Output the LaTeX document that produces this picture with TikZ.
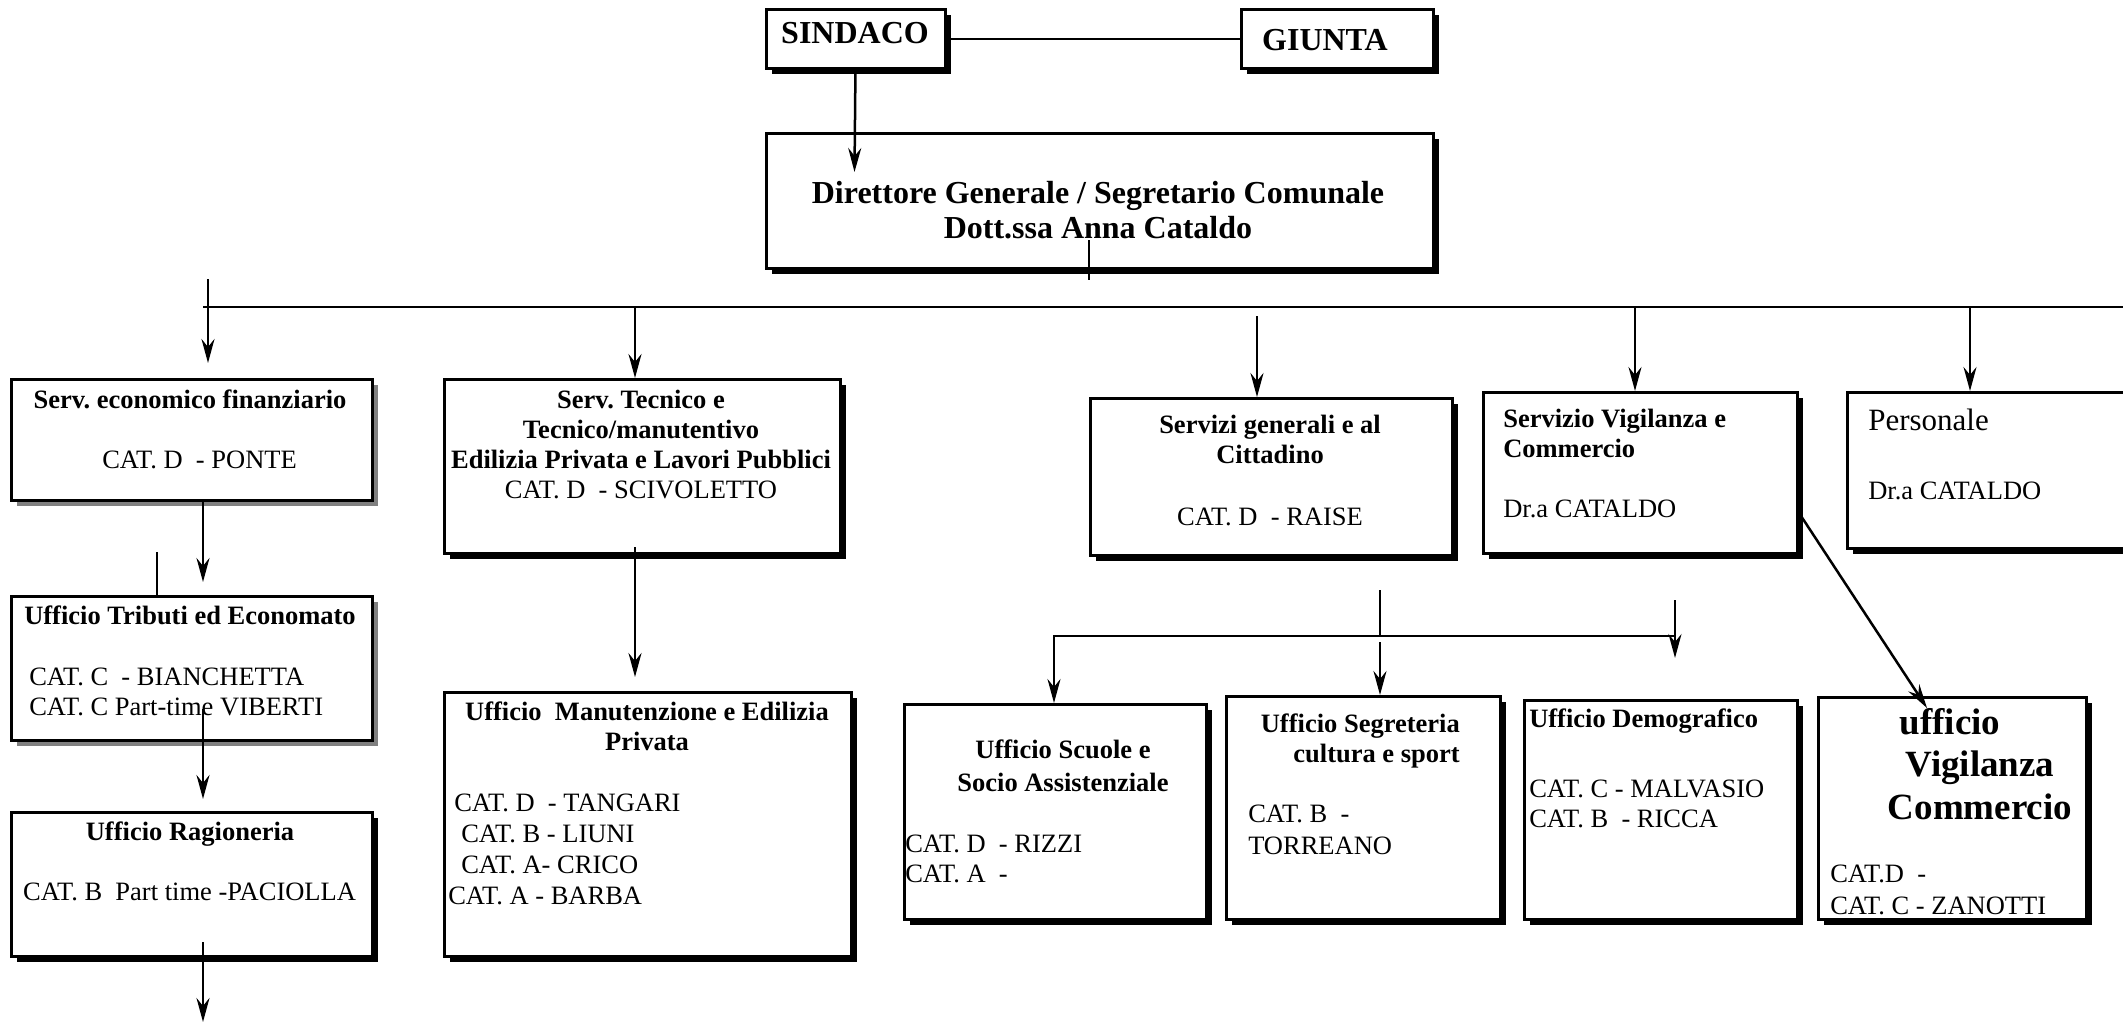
\documentclass[tikz,border=0pt]{standalone}
\usepackage{fontspec}
\setmainfont{Liberation Serif}
\usetikzlibrary{arrows.meta, shadows}

\begin{document}
\frenchspacing
\begin{tikzpicture}[x=1pt, y=-1pt, line width=2.5pt]
	\tikzset {>={Stealth[length=24pt, width=13pt, inset=8pt]},
		ente/.style={draw, fill=white, anchor=north west, inner sep=0pt,
			drop shadow={shadow xshift=6pt, shadow yshift=-6pt, opacity=1, fill=black}},
		entegrigio/.style={draw, fill=white, anchor=north west, inner sep=0pt,
			drop shadow={shadow xshift=6pt, shadow yshift=-6pt, opacity=1, fill=gray}},
		titolo/.style={font=\bfseries\fontsize{26.5}{30}\selectfont, inner sep=0pt, anchor=base, align=center},
		nomi/.style={font=\fontsize{26.5}{30}\selectfont, inner sep=0pt, anchor=base west, align=left} }
	
	\clip (0,0) rectangle (2123,1023);
	
	% vertice
	\node[ente, minimum width=179pt, minimum height=59pt] (sindaco) at (765,8) {};
	\node[ente, minimum width=192pt, minimum height=59pt] (giunta) at (1240,8) {};
	\node[ente, minimum width=667pt, minimum height=135pt] (direttore) at (765,132) {};
	\node[titolo, font=\bfseries\fontsize{32}{35}\selectfont] (sindacoT) at (855,43) {SINDACO};
	\node[titolo, font=\bfseries\fontsize{32}{35}\selectfont] (giuntaT) at (1325,50) {GIUNTA};
	\node[titolo, font=\bfseries\fontsize{32}{35}\selectfont] (direttoreT) at (1098,238)
		{Direttore Generale / Segretario Comunale\\Dott.ssa Anna Cataldo};
	
	% servizi
	\node[entegrigio, minimum width=361pt, minimum height=121pt] (econ) at (10,378) {};
	\node[ente, minimum width=396pt, minimum height=174pt] (tecnico) at (443,378) {};
	\node[ente, minimum width=362pt, minimum height=157pt] (generali) at (1089,397) {};
	\node[ente, minimum width=314pt, minimum height=161pt] (vigil) at (1482,391) {};
	\node[ente, minimum width=314pt, minimum height=156pt] (personale) at (1846,391) {};
	
	\node[titolo] (econT) at (190,408) {Serv. economico finanziario};
	\node[nomi] (econC) at (101,468) {CAT. D\ \ - PONTE};
	\node[titolo] (tecnicoT) at (641,498)
		{Serv. Tecnico e\\Tecnico/manutentivo\\Edilizia Privata e Lavori Pubblici\\\textmd{CAT. D\ \ - SCIVOLETTO}};
	\node[titolo] (generaliT) at (1270,463) {Servizi generali e al\\Cittadino};
	\node[nomi, anchor=base] (generaliC) at (1270,525) {CAT. D\ \ - RAISE};
	\node[titolo, anchor=base west, align=left] (vigilT) at (1502,457) {Servizio Vigilanza e\\Commercio};
	\node[nomi] (vigilC) at (1502,517) {Dr.a CATALDO};
	\node[nomi, font=\fontsize{31}{35}\selectfont] (personaleT) at (1867,430) {Personale};
	\node[nomi] (personaleC) at (1867,499) {Dr.a CATALDO};
	
	% uffici
	\node[entegrigio, minimum width=361pt, minimum height=144pt] (tributi) at (10,595) {};
	\node[ente, minimum width=361pt, minimum height=144pt] (ragioneria) at (10,811) {};
	\node[ente, minimum width=407pt, minimum height=264pt] (manut) at (443,691) {};
	\node[ente, minimum width=302pt, minimum height=215pt] (scuole) at (903,703) {};
	\node[ente, minimum width=274pt, minimum height=223pt] (segret) at (1225,695) {};
	\node[ente, minimum width=273pt, minimum height=219pt] (demogr) at (1523,699) {};
	\node[ente, minimum width=268pt, minimum height=222pt] (uffvig) at (1817,696) {};
	
	\node[titolo] (tributiT) at (190,624) {Ufficio Tributi ed Economato};
	\node[nomi] (tributiC) at (28,715) {CAT. C\ \ - BIANCHETTA\\CAT. C Part-time VIBERTI};
	\node[titolo] (ragioneriaT) at (190,840) {Ufficio Ragioneria};
	\node[nomi] (ragioneriaC) at (22,900) {CAT. B\ \ Part time -PACIOLLA};
	\node[titolo] (manutT) at (647,750) {Ufficio\ \ Manutenzione e Edilizia\\Privata};
	\node[nomi, font=\fontsize{26.5}{31}\selectfont] (manutC) at (447,904)
		{\hspace*{6pt}CAT. D\ \ - TANGARI\\\hspace*{13pt}CAT. B - LIUNI\\\hspace*{13pt}CAT. A- CRICO\\CAT. A - BARBA};
	\node[titolo, font=\bfseries\fontsize{26.5}{33}\selectfont] (scuoleT) at (1063,791) {Ufficio Scuole e\\Socio Assistenziale};
	\node[nomi] (scuoleC) at (904,882) {CAT. D\ \ - RIZZI\\CAT. A\ \ -};
	\node[titolo, anchor=base east, align=right] (segretT) at (1461,762) {Ufficio Segreteria\\cultura e sport};
	\node[nomi, font=\fontsize{26.5}{32}\selectfont] (segretC) at (1247,854) {CAT. B\ \ -\\TORREANO};
	\node[titolo, anchor=base west] (demogrT) at (1528,727) {Ufficio Demografico};
	\node[nomi] (demogrC) at (1528,827) {CAT. C - MALVASIO\\CAT. B\ \ - RICCA};
	\node[titolo, font=\bfseries\fontsize{37}{42.5}\selectfont] (uffvigT) at (1980,819)
		{ufficio\hspace*{60pt}\\Vigilanza\\Commercio};
	\node[nomi, font=\fontsize{26.5}{32}\selectfont] (uffvigC) at (1829,914) {CAT.D\ \ -\\CAT. C - ZANOTTI};
	
	% collegamenti
	\coordinate (sdA) at (854.5,172);
	\coordinate (dirA) at (1089,240);
	\coordinate (dirB) at (1089,280);
	\coordinate (busL) at (203,307);
	\coordinate (busR) at (2123,307);
	\coordinate (d1a) at (208,279);
	\coordinate (d1b) at (208,363);
	\coordinate (d2) at (635,307);
	\coordinate (d3) at (1257,316);
	\coordinate (d4) at (1635,307);
	\coordinate (d5) at (1970,307);
	\coordinate (e1) at (203,499);
	\coordinate (e2) at (203,582);
	\coordinate (t0) at (157,552);
	\coordinate (r1) at (203,709);
	\coordinate (r2) at (203,799);
	\coordinate (r3) at (203,942);
	\coordinate (r4) at (203,1022);
	\coordinate (m1) at (635,547);
	\coordinate (m2) at (635,677);
	\coordinate (v1) at (1801,516);
	\coordinate (v2) at (1927,708);
	\coordinate (sb0) at (1380,590);
	\coordinate (sbC) at (1380,636);
	\coordinate (sbM) at (1380,642);
	\coordinate (sbL) at (1054,636);
	\coordinate (sbR) at (1675,636);
	\coordinate (sbD) at (1675,600);
	\coordinate (sbE) at (1675,658);
	
	\draw (sindaco) -- (giunta);
	\draw[->] (sindaco) -- (sdA);
	\draw (dirA) -- (dirB);
	\draw (busL) -- (busR);
	\draw[->] (d1a) -- (d1b);
	\draw[->] (d2) -- (d2 |- tecnico.north);
	\draw[->] (d3) -- (d3 |- generali.north);
	\draw[->] (d4) -- (d4 |- vigil.north);
	\draw[->] (d5) -- (d5 |- personale.north);
	\draw[->] (e1) -- (e2);
	\draw (t0) -- (t0 |- tributi.north);
	\draw[->] (r1) -- (r2);
	\draw[->] (r3) -- (r4);
	\draw[->] (m1) -- (m2);
	\draw[->] (v1) -- (v2);
	\draw (sb0) -- (sbC);
	\draw[->] (sbR) -- (sbL) -- (sbL |- scuole.north);
	\draw[->] (sbM) -- (sbM |- segret.north);
	\draw[->] (sbD) -- (sbE);
\end{tikzpicture}
\end{document}
